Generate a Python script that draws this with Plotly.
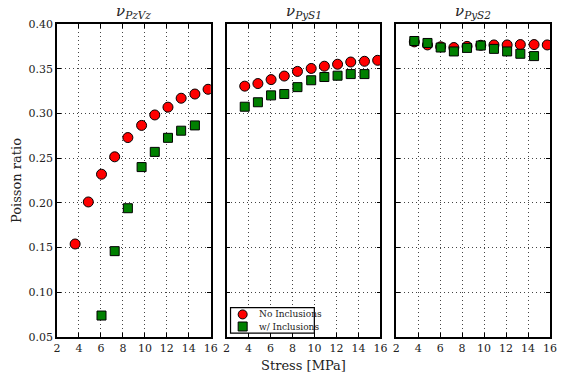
import plotly.graph_objects as go

# Applied stress levels [MPa]
stress = [3.65, 4.85, 6.05, 7.25, 8.45, 9.7, 10.9, 12.1, 13.3, 14.55, 15.75]

# Poisson ratios, no inclusions
nu_pzvz_clean = [0.154, 0.201, 0.232, 0.2515, 0.273, 0.2866, 0.2983, 0.307, 0.317, 0.3217, 0.327]
nu_pys1_clean = [0.3305, 0.3334, 0.3378, 0.3418, 0.347, 0.3503, 0.3528, 0.355, 0.3575, 0.3583, 0.3594]
nu_pys2_clean = [0.380, 0.3766, 0.3745, 0.3737, 0.375, 0.3762, 0.3766, 0.3766, 0.377, 0.377, 0.3766]

# Poisson ratios, with inclusions
stress_pzvz_incl = [6.05, 7.25, 8.45, 9.7, 10.9, 12.1, 13.3, 14.55]
nu_pzvz_incl = [0.074, 0.146, 0.194, 0.240, 0.257, 0.2727, 0.2807, 0.2866]
stress_incl = [3.65, 4.85, 6.05, 7.25, 8.45, 9.7, 10.9, 12.1, 13.3, 14.55]
nu_pys1_incl = [0.3075, 0.3125, 0.3202, 0.3217, 0.3294, 0.3371, 0.3407, 0.3422, 0.344, 0.344]
nu_pys2_incl = [0.381, 0.3788, 0.3737, 0.3693, 0.3733, 0.3759, 0.3722, 0.3693, 0.3667, 0.3641]

titles = ["ν<sub>PzVz</sub>", "ν<sub>PyS1</sub>", "ν<sub>PyS2</sub>"]
series_names = ["No Inclusions", "w/ Inclusions"]
x_ticks = [2, 4, 6, 8, 10, 12, 14, 16]
y_ticks = [0.05, 0.10, 0.15, 0.20, 0.25, 0.30, 0.35, 0.40]

FONT = "'DejaVu Serif', 'Liberation Serif', serif"
TXT = "#222222"
RED = "#ff0000"
GREEN = "#008000"

panels = [
    (stress, nu_pzvz_clean, stress_pzvz_incl, nu_pzvz_incl),
    (stress, nu_pys1_clean, stress_incl, nu_pys1_incl),
    (stress, nu_pys2_clean, stress_incl, nu_pys2_incl),
]
domains = [[0.0, 0.312], [0.344, 0.656], [0.688, 1.0]]

fig = go.Figure()
for i, (xc, yc, xi, yi) in enumerate(panels):
    sfx = "" if i == 0 else str(i + 1)
    fig.add_trace(go.Scatter(
        x=xc, y=yc, mode="markers", name=series_names[0],
        xaxis="x" + sfx, yaxis="y" + sfx, showlegend=False,
        marker=dict(symbol="circle", size=10, color=RED, line=dict(color="black", width=1)),
    ))
    fig.add_trace(go.Scatter(
        x=xi, y=yi, mode="markers", name=series_names[1],
        xaxis="x" + sfx, yaxis="y" + sfx, showlegend=False,
        marker=dict(symbol="square", size=9, color=GREEN, line=dict(color="black", width=1)),
    ))

axis_common = dict(
    showline=True, linecolor="black", linewidth=1.5, mirror="ticks",
    ticks="inside", ticklen=4, tickcolor="black", tickwidth=1,
    showgrid=True, gridcolor="#444444", gridwidth=1, griddash="1px,3px",
    zeroline=False, tickfont=dict(family=FONT, size=11, color=TXT),
)

layout = dict(
    width=564, height=378,
    margin=dict(l=57, r=7, t=24, b=35),
    paper_bgcolor="white", plot_bgcolor="white",
    font=dict(family=FONT, color=TXT),
    showlegend=False,
    annotations=[], shapes=[],
)

for i in range(3):
    sfx = "" if i == 0 else str(i + 1)
    layout["xaxis" + sfx] = dict(
        axis_common, domain=domains[i], range=[2, 16],
        tickvals=x_ticks, ticktext=[str(t) for t in x_ticks],
        anchor="y" + sfx,
    )
    layout["yaxis" + sfx] = dict(
        axis_common, domain=[0, 1], range=[0.05, 0.40],
        tickvals=y_ticks, ticktext=[f"{t:.2f}" for t in y_ticks],
        showticklabels=(i == 0), anchor="x" + sfx,
    )
    layout["annotations"].append(dict(
        text="<i>" + titles[i] + "</i>", xref="paper", yref="paper",
        x=sum(domains[i]) / 2, y=1.0, xanchor="center", yanchor="bottom",
        yshift=1, showarrow=False, font=dict(family=FONT, size=15, color=TXT),
    ))

# Compact legend box in the lower-left corner of the middle panel
lx0, lx1, ly0, ly1 = 0.352, 0.522, 0.0125, 0.094
layout["shapes"].append(dict(
    type="rect", xref="paper", yref="paper", x0=lx0, x1=lx1, y0=ly0, y1=ly1,
    fillcolor="white", line=dict(color="black", width=1.2), layer="above",
))
mx, tx = 0.3766, 0.405
rows = [(0.0721, "circle", RED), (0.0335, "rect", GREEN)]
for (ry, kind, col), label in zip(rows, series_names):
    half = 4.5
    layout["shapes"].append(dict(
        type=kind, xref="paper", yref="paper",
        xsizemode="pixel", ysizemode="pixel", xanchor=mx, yanchor=ry,
        x0=-half, x1=half, y0=-half, y1=half,
        fillcolor=col, line=dict(color="black", width=1), layer="above",
    ))
    layout["annotations"].append(dict(
        text=label, xref="paper", yref="paper", x=tx, y=ry,
        xanchor="left", yanchor="middle", showarrow=False,
        font=dict(family=FONT, size=9, color=TXT),
    ))

layout["xaxis2"]["title"] = dict(text="Stress [MPa]", font=dict(family=FONT, size=13, color=TXT), standoff=7)
layout["yaxis"]["title"] = dict(text="Poisson ratio", font=dict(family=FONT, size=13, color=TXT), standoff=4)

fig.update_layout(**layout)
fig.write_html("out.html")
